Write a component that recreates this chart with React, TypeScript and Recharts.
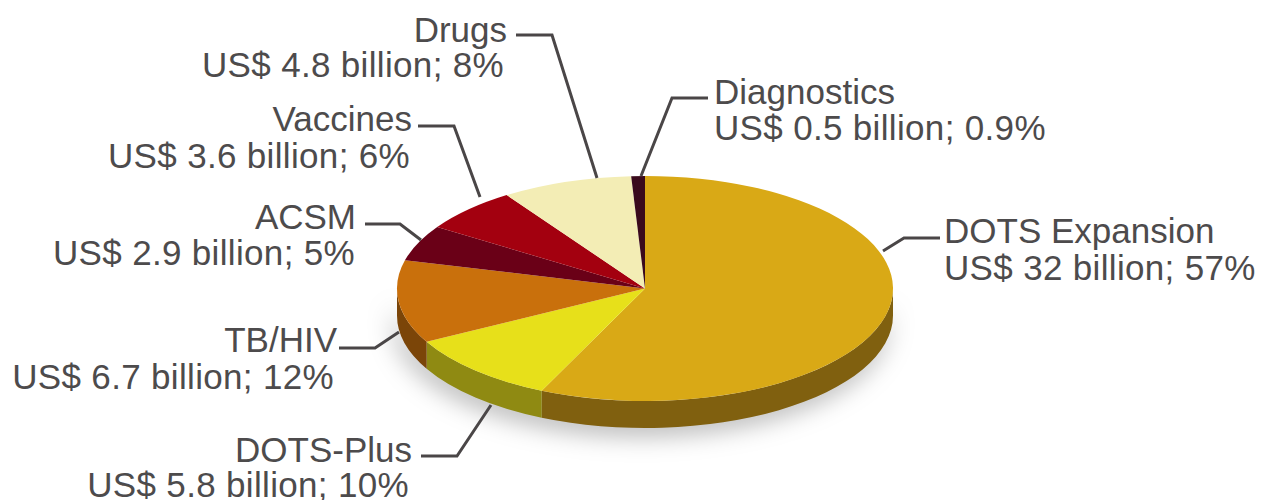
import { Pie, PieChart } from 'recharts'

// Amounts are US$ billion, clockwise from 12 o'clock
const categories = ['DOTS Expansion', 'DOTS-Plus', 'TB/HIV', 'ACSM', 'Vaccines', 'Drugs', 'Diagnostics']
const billions = [32, 5.8, 6.7, 2.9, 3.6, 4.8, 0.5]
const percents = ['57', '10', '12', '5', '6', '8', '0.9']

const topColors = ['#d9a916', '#e7e01a', '#c9700c', '#6a0017', '#a3000f', '#f3edb5', '#3a0a1c']
const wallColors = ['#80600f', '#8f8a12', '#7b4508', '#4a0010', '#70000a', '#a8a47c', '#280713']

// the pie is tilted, so the circle gets squashed to an ellipse with a wall below it
const TILT = 112.5 / 248
const DEPTH = 27
const TEXT_COLOR = '#4d4b4c'
const LINE_COLOR = '#4a4647'

// text anchor, two baselines and the leader line, one row per category
const labelLayout = [
  { x: 944, x2: 944, y: 243, y2: 280, anchor: 'start', line: '940,238 904,238 883,251' },
  { x: 412, x2: 409, y: 462, y2: 497, anchor: 'end', line: '421,456 457,456 491,405' },
  { x: 337, x2: 334, y: 352, y2: 389, anchor: 'end', line: '339,348 375,348 399,332' },
  { x: 356, x2: 355, y: 229, y2: 265, anchor: 'end', line: '365,224 400,224 421,240' },
  { x: 412, x2: 410, y: 131, y2: 168, anchor: 'end', line: '418,126 454,126 480,197' },
  { x: 507, x2: 504, y: 42, y2: 77, anchor: 'end', line: '516,35 552,35 597,178' },
  { x: 714, x2: 714, y: 104, y2: 140, anchor: 'start', line: '708,98 672,98 641,176' },
]

const tableData = categories.map((name, i) => ({
  name,
  value: billions[i],
  percent: percents[i],
  topColor: topColors[i],
  wallColor: wallColors[i],
}))

const point = (cx: number, cy: number, r: number, deg: number) => {
  const rad = (deg * Math.PI) / 180
  return [cx + r * Math.cos(rad), cy + r * TILT * Math.sin(rad)]
}

const TopSlice = (props: any) => {
  const { cx, cy, outerRadius: r, startAngle, endAngle, payload } = props
  const [x1, y1] = point(cx, cy, r, -startAngle)
  const [x2, y2] = point(cx, cy, r, -endAngle)
  const large = startAngle - endAngle > 180 ? 1 : 0
  const d = `M${cx},${cy}L${x1},${y1}A${r},${r * TILT} 0 ${large} 1 ${x2},${y2}Z`
  return <path d={d} fill={payload.topColor} />
}

const WallSlice = (props: any) => {
  const { cx, cy, outerRadius: r, startAngle, endAngle, payload } = props
  // only the front half of the rim can be seen
  const from = Math.max(-startAngle, 0)
  const to = Math.min(-endAngle, 180)
  if (from >= to) return <g />
  const [x1, y1] = point(cx, cy, r, from)
  const [x2, y2] = point(cx, cy, r, to)
  const ry = r * TILT
  const d = `M${x1},${y1}A${r},${ry} 0 0 1 ${x2},${y2}L${x2},${y2 + DEPTH}A${r},${ry} 0 0 0 ${x1},${y1 + DEPTH}Z`
  return <path d={d} fill={payload.wallColor} />
}

const renderLabel = (props: any) => {
  const { index } = props
  const row = tableData[index]
  const spot = labelLayout[index]
  return (
    <g key={row.name}>
      <polyline points={spot.line} fill="none" stroke={LINE_COLOR} strokeWidth={3} />
      <text x={spot.x} y={spot.y} textAnchor={spot.anchor} fontSize={35} fill={TEXT_COLOR}>
        {row.name}
      </text>
      <text x={spot.x2} y={spot.y2} textAnchor={spot.anchor} fontSize={35} letterSpacing={0.33} fill={TEXT_COLOR}>
        {`US$ ${row.value} billion; ${row.percent}%`}
      </text>
    </g>
  )
}

const App = () => (
  <div style={{ position: 'absolute', left: 0, top: 0, fontFamily: '"Liberation Sans", sans-serif' }}>
    <style>{`.pie-wall { filter: drop-shadow(-4px 8px 12px rgba(0,0,0,0.28)); }`}</style>
    <PieChart width={1263} height={500} margin={{ top: 0, right: 0, bottom: 0, left: 0 }}>
      <Pie
        className="pie-wall"
        data={tableData}
        dataKey="value"
        cx={645}
        cy={288.5}
        outerRadius={248}
        startAngle={90}
        endAngle={-270}
        shape={WallSlice}
        isAnimationActive={false}
      />
      <Pie
        data={tableData}
        dataKey="value"
        cx={645}
        cy={288.5}
        outerRadius={248}
        startAngle={90}
        endAngle={-270}
        shape={TopSlice}
        label={renderLabel}
        labelLine={false}
        isAnimationActive={false}
      />
    </PieChart>
  </div>
)

export default App
